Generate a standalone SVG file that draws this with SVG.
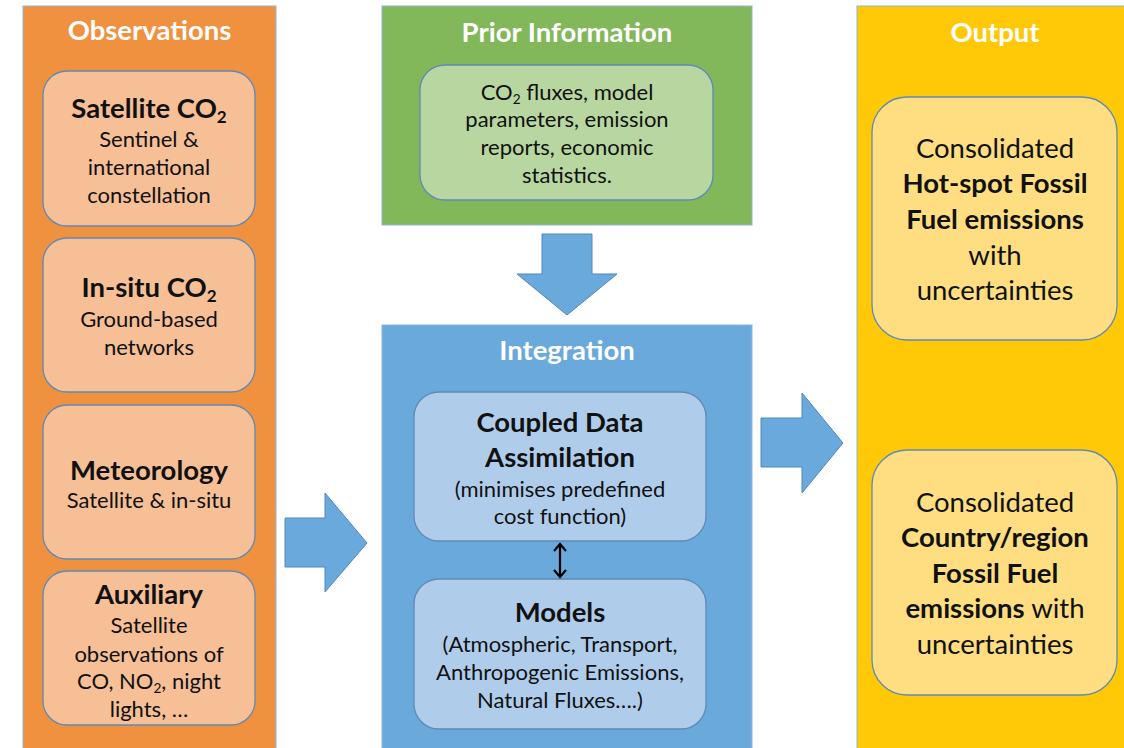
<svg xmlns="http://www.w3.org/2000/svg" width="1124" height="748" viewBox="0 0 1124 748">
<style>
text{font-family:Lato,"Liberation Sans",sans-serif;text-anchor:middle;fill:#111}
.ttl{font-weight:bold;font-size:27.5px;fill:#fff}
.b{font-weight:bold;font-size:27.5px}
.r{font-size:22px}
.ro{font-size:27.5px}
.bo{font-weight:bold;font-size:27.5px}
.panel{stroke:#8EB4DC;stroke-width:1}
.box{stroke:#5E8AB8;stroke-width:1.3}
.blk{fill:#6AA9DB;stroke:#4F86C0;stroke-width:1}
.sub{font-size:0.62em}
</style>
<g id="observations">
<rect class="panel" x="23" y="6" width="253" height="750" fill="#F0913F"/>
<text class="ttl" x="149.5" y="40">Observations</text>
</g>
<g id="satellite-co2">
<rect class="box" x="43" y="71" width="212" height="155" rx="24" fill="#F6BF96"/>
<text class="b" x="149" y="118">Satellite CO<tspan class="sub" dy="5">2</tspan></text>
<text class="r" x="149" y="147">Sentinel &amp;</text>
<text class="r" x="149" y="175">international</text>
<text class="r" x="149" y="203">constellation</text>
</g>
<g id="insitu-co2">
<rect class="box" x="43" y="238" width="212" height="154" rx="24" fill="#F6BF96"/>
<text class="b" x="149" y="297">In-situ CO<tspan class="sub" dy="5">2</tspan></text>
<text class="r" x="149" y="327">Ground-based</text>
<text class="r" x="149" y="355">networks</text>
</g>
<g id="meteorology">
<rect class="box" x="43" y="405" width="212" height="154" rx="24" fill="#F6BF96"/>
<text class="b" x="149" y="480">Meteorology</text>
<text class="r" x="149" y="508">Satellite &amp; in-situ</text>
</g>
<g id="auxiliary">
<rect class="box" x="43" y="571" width="212" height="154" rx="24" fill="#F6BF96"/>
<text class="b" x="149" y="604">Auxiliary</text>
<text class="r" x="149" y="633">Satellite</text>
<text class="r" x="149" y="662">observations of</text>
<text class="r" x="149" y="689">CO, NO<tspan class="sub" dy="4">2</tspan><tspan dy="-4">, night</tspan></text>
<text class="r" x="149" y="717">lights, …</text>
</g>
<g id="prior-information">
<rect class="panel" x="382" y="6" width="370" height="219" fill="#82B75A"/>
<text class="ttl" x="567" y="42">Prior Information</text>
<rect class="box" x="420" y="65" width="293" height="135" rx="25" fill="#B8D7A0"/>
<text class="r" x="567" y="100">CO<tspan class="sub" dy="4">2</tspan><tspan dy="-4"> fluxes, model</tspan></text>
<text class="r" x="567" y="127">parameters, emission</text>
<text class="r" x="567" y="155">reports, economic</text>
<text class="r" x="567" y="183">statistics.</text>
</g>
<g id="integration">
<rect class="panel" x="382" y="325" width="370" height="430" fill="#6AA9DB"/>
<text class="ttl" x="567" y="360">Integration</text>
</g>
<g id="coupled-data-assimilation">
<rect class="box" x="414" y="392" width="292" height="149" rx="25" fill="#AFCDEB"/>
<text class="b" x="560" y="432">Coupled Data</text>
<text class="b" x="560" y="467">Assimilation</text>
<text class="r" x="560" y="497">(minimises predefined</text>
<text class="r" x="560" y="524">cost function)</text>
</g>
<g id="models">
<rect class="box" x="414" y="579" width="292" height="150" rx="25" fill="#AFCDEB"/>
<text class="b" x="560" y="622">Models</text>
<text class="r" x="560" y="652">(Atmospheric, Transport,</text>
<text class="r" x="560" y="680">Anthropogenic Emissions,</text>
<text class="r" x="560" y="708">Natural Fluxes….)</text>
</g>
<g id="output">
<rect class="panel" x="857" y="6" width="280" height="750" fill="#FFC907"/>
<text class="ttl" x="995" y="42">Output</text>
</g>
<g id="hotspot-output">
<rect class="box" x="872" y="97" width="245" height="243" rx="35" fill="#FEDE80"/>
<text class="ro" x="995" y="158">Consolidated</text>
<text class="bo" x="995" y="193">Hot-spot Fossil</text>
<text class="bo" x="995" y="229">Fuel emissions</text>
<text class="ro" x="995" y="265">with</text>
<text class="ro" x="995" y="300">uncertainties</text>
</g>
<g id="country-output">
<rect class="box" x="872" y="450" width="245" height="245" rx="35" fill="#FEDE80"/>
<text class="ro" x="995" y="512">Consolidated</text>
<text class="bo" x="995" y="547">Country/region</text>
<text class="bo" x="995" y="583">Fossil Fuel</text>
<text class="ro" x="995" y="618"><tspan font-weight="bold">emissions</tspan> with</text>
<text class="ro" x="995" y="654">uncertainties</text>
</g>
<g id="connectors">
<polygon class="blk" points="285,518 325,518 325,493 367,543 325,592 325,567 285,567"/>
<polygon class="blk" points="542,234 592,234 592,274 617,274 567,315 517,274 542,274"/>
<polygon class="blk" points="761,418 802,418 802,393 843,443 802,493 802,467 761,467"/>
<path d="M560,544 V577 M554,551 L560,544 L566,551 M554,570 L560,577 L566,570" fill="none" stroke="#000" stroke-width="2.2"/>
</g>
</svg>
